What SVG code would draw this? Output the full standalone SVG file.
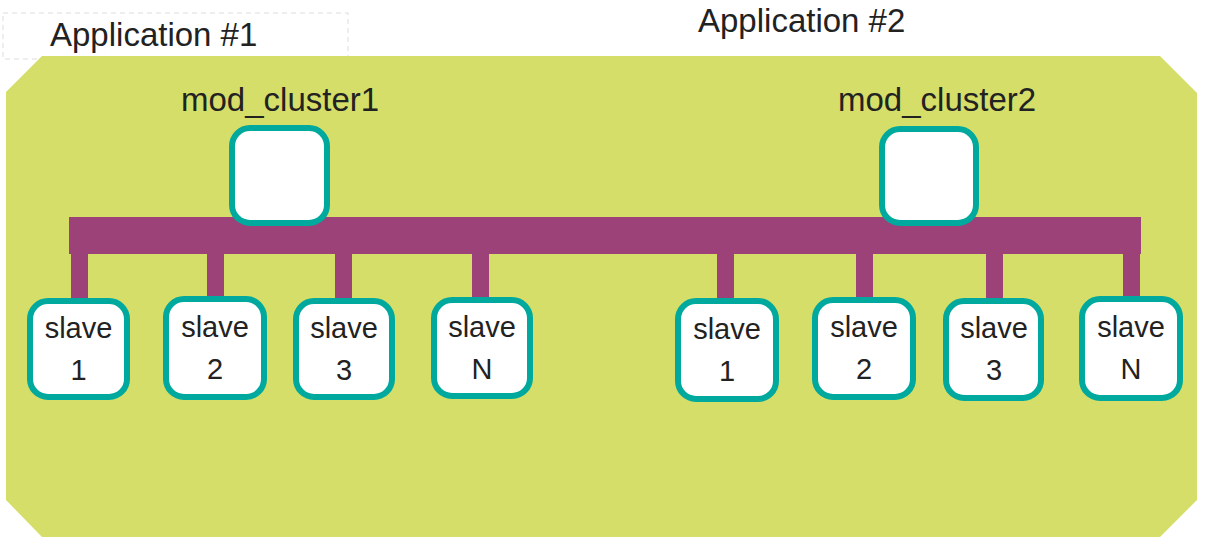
<svg xmlns="http://www.w3.org/2000/svg" width="1205" height="542" viewBox="0 0 1205 542">
<style>
.t{font-family:"Liberation Sans",Arial,sans-serif;fill:#222;}
.big{font-size:33px;}
.sl{font-size:29px;text-anchor:middle;}
.box{fill:#fff;stroke:#00a99d;stroke-width:6;}
.bus{fill:#9c4279;}
</style>
<rect x="3" y="13" width="345" height="46" fill="none" stroke="#ddd" stroke-width="1" stroke-dasharray="5,4"/>
<polygon points="42,56 1160,56 1197,93 1197,500 1160,537 42,537 6,500 6,92" fill="#d4de68"/>
<text class="t big" x="50" y="46">Application #1</text>
<text class="t big" x="698" y="32">Application #2</text>
<g id="connectors">
<rect class="bus" x="69" y="217" width="1072" height="37"/>
<rect class="bus" x="71" y="250" width="17" height="50"/>
<rect class="bus" x="207" y="250" width="17" height="50"/>
<rect class="bus" x="335" y="250" width="17" height="50"/>
<rect class="bus" x="472" y="250" width="17" height="50"/>
<rect class="bus" x="717" y="250" width="17" height="50"/>
<rect class="bus" x="856" y="250" width="17" height="50"/>
<rect class="bus" x="986" y="250" width="17" height="50"/>
<rect class="bus" x="1123" y="250" width="17" height="50"/>
</g>
<g id="mod_cluster1">
<text class="t big" x="181" y="111">mod_cluster1</text>
<rect class="box" x="232" y="128" width="95" height="95" rx="18"/>
</g>
<g id="mod_cluster2">
<text class="t big" x="838" y="111">mod_cluster2</text>
<rect class="box" x="882" y="129" width="94" height="94" rx="18"/>
</g>
<g id="a1_slave1"><rect class="box" x="30" y="301" width="97" height="96" rx="18"/><text class="t sl" x="78.5" y="338">slave</text><text class="t sl" x="78.5" y="380">1</text></g>
<g id="a1_slave2"><rect class="box" x="166" y="299" width="98" height="98" rx="18"/><text class="t sl" x="215" y="337">slave</text><text class="t sl" x="215" y="379">2</text></g>
<g id="a1_slave3"><rect class="box" x="296" y="301" width="96" height="96" rx="18"/><text class="t sl" x="344" y="338">slave</text><text class="t sl" x="344" y="380">3</text></g>
<g id="a1_slaveN"><rect class="box" x="434" y="300" width="96" height="96" rx="18"/><text class="t sl" x="482" y="337">slave</text><text class="t sl" x="482" y="379">N</text></g>
<g id="a2_slave1"><rect class="box" x="678" y="301" width="98" height="98" rx="18"/><text class="t sl" x="727" y="339">slave</text><text class="t sl" x="727" y="381">1</text></g>
<g id="a2_slave2"><rect class="box" x="815" y="300" width="98" height="97" rx="18"/><text class="t sl" x="864" y="337">slave</text><text class="t sl" x="864" y="379">2</text></g>
<g id="a2_slave3"><rect class="box" x="946" y="301" width="95" height="97" rx="18"/><text class="t sl" x="994" y="338">slave</text><text class="t sl" x="994" y="380">3</text></g>
<g id="a2_slaveN"><rect class="box" x="1082" y="299" width="98" height="99" rx="18"/><text class="t sl" x="1131" y="337">slave</text><text class="t sl" x="1131" y="379">N</text></g>
</svg>
